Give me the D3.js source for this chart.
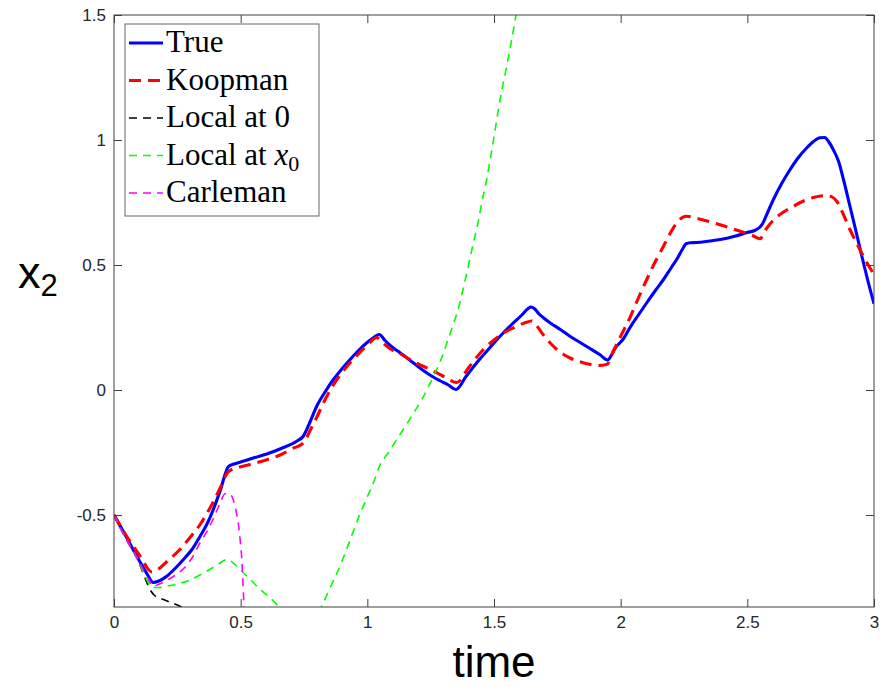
<!DOCTYPE html>
<html>
<head>
<meta charset="utf-8">
<script src="https://cdn.jsdelivr.net/npm/d3@7"></script>
<style>
  html, body { margin: 0; padding: 0; background: #fff; overflow: hidden; }
  #chart { width: 891px; height: 687px; }
  .axis text { font-family: "Liberation Sans", Arial, sans-serif; font-size: 17px; fill: #262626; }
  .axis line { stroke: #404040; }
  .legend text { font-family: "Liberation Serif", "Times New Roman", serif; font-size: 31px; fill: #000; }
  .label { font-family: "Liberation Sans", Arial, sans-serif; fill: #000; }
</style>
</head>
<body>
<div id="chart"></div>
<script>
// x2 trajectories
const xTicks = [0, 0.5, 1, 1.5, 2, 2.5, 3];
const yTicks = [-0.5, 0, 0.5, 1, 1.5];

const trueT = [0, 0.05, 0.09, 0.13, 0.155, 0.175, 0.208, 0.24, 0.274, 0.31, 0.34, 0.37, 0.392, 0.42, 0.451, 0.47, 0.497, 0.55, 0.603, 0.66, 0.721, 0.747, 0.775, 0.8, 0.835, 0.866, 0.9, 0.932, 0.965, 0.998, 1.025, 1.047, 1.07, 1.1, 1.129, 1.18, 1.221, 1.26, 1.287, 1.32, 1.35, 1.39, 1.432, 1.48, 1.524, 1.57, 1.61, 1.635, 1.646, 1.66, 1.68, 1.695, 1.721, 1.76, 1.8, 1.84, 1.879, 1.92, 1.948, 1.98, 2.011, 2.037, 2.07, 2.103, 2.135, 2.169, 2.2, 2.221, 2.245, 2.258, 2.275, 2.3, 2.35, 2.393, 2.45, 2.5, 2.531, 2.548, 2.56, 2.58, 2.603, 2.635, 2.669, 2.7, 2.735, 2.76, 2.787, 2.805, 2.82, 2.84, 2.86, 2.88, 2.905, 2.93, 2.952, 2.975, 3.0];
const trueX = [-0.5, -0.59, -0.665, -0.735, -0.77, -0.765, -0.745, -0.715, -0.678, -0.635, -0.585, -0.53, -0.478, -0.4, -0.307, -0.297, -0.289, -0.272, -0.256, -0.234, -0.205, -0.185, -0.125, -0.065, -0.005, 0.042, 0.085, 0.122, 0.158, 0.189, 0.21, 0.222, 0.198, 0.17, 0.149, 0.11, 0.078, 0.052, 0.037, 0.02, 0.002, 0.055, 0.109, 0.165, 0.215, 0.262, 0.3, 0.326, 0.332, 0.325, 0.302, 0.289, 0.269, 0.243, 0.215, 0.19, 0.166, 0.14, 0.12, 0.17, 0.205, 0.25, 0.3, 0.349, 0.395, 0.442, 0.49, 0.522, 0.565, 0.585, 0.589, 0.59, 0.596, 0.602, 0.615, 0.63, 0.639, 0.65, 0.665, 0.71, 0.762, 0.825, 0.882, 0.928, 0.969, 0.993, 1.009, 1.01, 0.995, 0.96, 0.915, 0.84, 0.735, 0.63, 0.535, 0.44, 0.345];

const koopT = [0, 0.05, 0.1, 0.15, 0.17, 0.21, 0.26, 0.3, 0.34, 0.38, 0.42, 0.451, 0.49, 0.537, 0.6, 0.66, 0.7, 0.747, 0.78, 0.8, 0.83, 0.866, 0.9, 0.94, 0.98, 1.01, 1.037, 1.06, 1.09, 1.129, 1.19, 1.248, 1.3, 1.353, 1.4, 1.458, 1.5, 1.537, 1.58, 1.62, 1.649, 1.67, 1.695, 1.72, 1.748, 1.775, 1.8, 1.835, 1.866, 1.91, 1.945, 1.971, 2.0, 2.037, 2.07, 2.103, 2.135, 2.169, 2.2, 2.221, 2.258, 2.31, 2.366, 2.42, 2.472, 2.52, 2.55, 2.575, 2.603, 2.64, 2.682, 2.72, 2.761, 2.79, 2.814, 2.835, 2.853, 2.88, 2.905, 2.93, 2.958, 2.98, 3.0];
const koopX = [-0.5, -0.585, -0.66, -0.728, -0.72, -0.685, -0.638, -0.59, -0.538, -0.47, -0.39, -0.327, -0.31, -0.298, -0.28, -0.258, -0.236, -0.212, -0.15, -0.11, -0.045, 0.02, 0.07, 0.118, 0.16, 0.19, 0.21, 0.19, 0.165, 0.145, 0.11, 0.082, 0.055, 0.03, 0.09, 0.162, 0.2, 0.228, 0.25, 0.268, 0.276, 0.255, 0.22, 0.19, 0.162, 0.142, 0.128, 0.114, 0.105, 0.098, 0.102, 0.155, 0.215, 0.29, 0.368, 0.442, 0.51, 0.575, 0.635, 0.668, 0.695, 0.684, 0.669, 0.652, 0.635, 0.618, 0.605, 0.645, 0.68, 0.71, 0.735, 0.755, 0.77, 0.776, 0.778, 0.772, 0.755, 0.7, 0.642, 0.59, 0.535, 0.495, 0.462];

const local0T = [0, 0.05, 0.09, 0.116, 0.142, 0.16, 0.195, 0.23, 0.26, 0.3];
const local0X = [-0.5, -0.6, -0.67, -0.735, -0.798, -0.822, -0.838, -0.852, -0.865, -0.885];

const localX0T = [0, 0.05, 0.09, 0.13, 0.149, 0.175, 0.208, 0.25, 0.287, 0.33, 0.366, 0.41, 0.445, 0.48, 0.511, 0.545, 0.577, 0.615, 0.649, 0.7, 0.77, 0.82, 0.856, 0.892, 0.93, 0.971, 1.003, 1.03, 1.05, 1.08, 1.116, 1.15, 1.182, 1.215, 1.24, 1.261, 1.29, 1.313, 1.335, 1.353, 1.375, 1.392, 1.419, 1.434, 1.452, 1.471, 1.498, 1.524, 1.55, 1.587, 1.61];
const localX0X = [-0.5, -0.6, -0.67, -0.76, -0.79, -0.79, -0.785, -0.776, -0.765, -0.745, -0.725, -0.698, -0.678, -0.7, -0.731, -0.765, -0.798, -0.83, -0.865, -0.93, -0.96, -0.865, -0.785, -0.705, -0.605, -0.495, -0.42, -0.355, -0.3, -0.255, -0.198, -0.145, -0.093, -0.038, 0.01, 0.055, 0.12, 0.185, 0.25, 0.305, 0.39, 0.465, 0.59, 0.655, 0.75, 0.842, 1.0, 1.162, 1.295, 1.5, 1.64];

const carlT = [0, 0.05, 0.09, 0.13, 0.155, 0.175, 0.208, 0.24, 0.274, 0.31, 0.34, 0.37, 0.392, 0.42, 0.438, 0.455, 0.471, 0.483, 0.491, 0.498, 0.504, 0.509, 0.513, 0.518];
const carlX = [-0.5, -0.6, -0.67, -0.745, -0.785, -0.778, -0.762, -0.742, -0.715, -0.668, -0.61, -0.56, -0.515, -0.45, -0.415, -0.415, -0.44, -0.49, -0.535, -0.6, -0.67, -0.77, -0.865, -1.0];

const legendLabels = ["True", "Koopman", "Local at 0", "Local at x0", "Carleman"];

(function () {
    const width = 891, height = 687;
    const plot = { left: 114, top: 15, right: 874, bottom: 607 };

    const svg = d3.select("#chart").append("svg")
        .attr("width", width).attr("height", height);

    const x = d3.scaleLinear().domain([0, 3]).range([plot.left, plot.right]);
    const y = d3.scaleLinear().domain([-0.868, 1.5]).range([plot.bottom, plot.top]);

    // plain hyphen minus, like matlab
    const fmt = d => String(d);

    // series in plotting order (later ones sit on top)
    const series = [
        { t: trueT,    v: trueX,    color: "#0000ff", width: 3.1, dash: null },
        { t: koopT,    v: koopX,    color: "#ff0000", width: 3.1, dash: "12,7" },
        { t: local0T,  v: local0X,  color: "#000000", width: 1.6, dash: "8,6" },
        { t: localX0T, v: localX0X, color: "#00ff00", width: 1.6, dash: "8,6" },
        { t: carlT,    v: carlX,    color: "#ff00ff", width: 1.6, dash: "8,6" }
    ];

    svg.append("clipPath").attr("id", "plot-clip")
        .append("rect")
        .attr("x", plot.left).attr("y", plot.top)
        .attr("width", plot.right - plot.left).attr("height", plot.bottom - plot.top);

    const line = d3.line()
        .x(d => x(d[0]))
        .y(d => y(d[1]))
        .curve(d3.curveMonotoneX);

    const linesG = svg.append("g").attr("clip-path", "url(#plot-clip)");
    series.forEach(s => {
        linesG.append("path")
            .datum(d3.zip(s.t, s.v))
            .attr("fill", "none")
            .attr("stroke", s.color)
            .attr("stroke-width", s.width)
            .attr("stroke-dasharray", s.dash)
            .attr("stroke-linejoin", "round")
            .attr("d", line);
    });

    // axes: ticks point inward, mirrored on top and right
    const tick = 8;
    svg.append("g").attr("class", "axis")
        .attr("transform", `translate(0,${plot.bottom})`)
        .call(d3.axisBottom(x).tickValues(xTicks).tickSize(-tick).tickPadding(9).tickFormat(fmt))
        .call(g => g.select(".domain").remove());
    svg.append("g").attr("class", "axis")
        .attr("transform", `translate(${plot.left},0)`)
        .call(d3.axisLeft(y).tickValues(yTicks).tickSize(-tick).tickPadding(8).tickFormat(fmt))
        .call(g => g.select(".domain").remove());
    svg.append("g").attr("class", "axis")
        .attr("transform", `translate(0,${plot.top})`)
        .call(d3.axisTop(x).tickValues(xTicks).tickSize(-tick).tickFormat(""))
        .call(g => g.select(".domain").remove());
    svg.append("g").attr("class", "axis")
        .attr("transform", `translate(${plot.right},0)`)
        .call(d3.axisRight(y).tickValues(yTicks).tickSize(-tick).tickFormat(""))
        .call(g => g.select(".domain").remove());

    svg.append("rect")
        .attr("x", plot.left).attr("y", plot.top)
        .attr("width", plot.right - plot.left).attr("height", plot.bottom - plot.top)
        .attr("fill", "none").attr("stroke", "#404040").attr("stroke-width", 1);

    // axis labels
    svg.append("text").attr("class", "label")
        .attr("x", (plot.left + plot.right) / 2).attr("y", 677)
        .attr("text-anchor", "middle")
        .style("font-size", "44px")
        .text("time");

    const yl = svg.append("text").attr("class", "label")
        .attr("x", 18).attr("y", 288)
        .style("font-size", "45px");
    yl.append("tspan").text("x");
    yl.append("tspan").attr("dy", 8).style("font-size", "31px").text("2");

    // legend
    const legend = svg.append("g").attr("class", "legend");
    legend.append("rect")
        .attr("x", 125).attr("y", 24).attr("width", 194).attr("height", 192)
        .attr("fill", "#fff").attr("stroke", "#666").attr("stroke-width", 1);

    series.forEach((s, i) => {
        const base = 52 + i * 37.5;
        legend.append("line")
            .attr("x1", 129).attr("x2", 163)
            .attr("y1", base - 9).attr("y2", base - 9)
            .attr("stroke", s.color)
            .attr("stroke-width", s.width)
            .attr("stroke-dasharray", s.dash);
        const txt = legend.append("text").attr("x", 166).attr("y", base);
        if (legendLabels[i] === "Local at x0") {
            txt.append("tspan").text("Local at ");
            txt.append("tspan").style("font-style", "italic").text("x");
            txt.append("tspan").attr("dy", 6).style("font-size", "22px").text("0");
        } else {
            txt.text(legendLabels[i]);
        }
    });
})();
</script>
</body>
</html>
